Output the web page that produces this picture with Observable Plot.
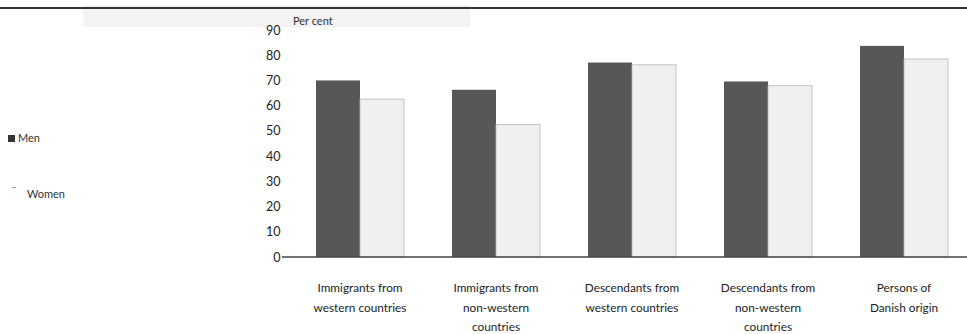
<!DOCTYPE html>
<html><head><meta charset="utf-8">
<script src="https://cdn.jsdelivr.net/npm/d3@7"></script>
<script src="https://cdn.jsdelivr.net/npm/@observablehq/plot@0.6"></script>
<style>
body{margin:0;background:#fff;font-family:Lato,"Open Sans",sans-serif;color:#222;}
#wrap{position:relative;width:967px;height:334px;overflow:hidden;}
#band{position:absolute;left:83px;top:5px;width:387px;height:22px;background:#f3f3f3;}
#topline{position:absolute;left:0;top:7px;width:967px;height:2px;background:#333;}
#unit{position:absolute;left:293px;top:14px;font-size:11px;color:#333;}
.leg{position:absolute;font-size:11px;color:#333;}
#chart{position:absolute;left:0;top:0;}
</style></head><body>
<div id="wrap">
<div id="band"></div>
<div id="topline"></div>
<div id="chart"></div>
<div id="unit">Per cent</div>
<div class="leg" style="left:8px;top:131px;"><span style="display:inline-block;width:7px;height:7px;background:#333;margin-right:3px;vertical-align:0px;"></span>Men</div>
<div class="leg" style="left:12px;top:187px;"><span style="display:inline-block;width:4px;height:1px;background:#999;margin-right:11px;vertical-align:10px;"></span>Women</div>
</div>
<script>
const categories = ["Immigrants from western countries","Immigrants from non-western countries","Descendants from western countries","Descendants from non-western countries","Persons of Danish origin"];
const categoryLabels = ["Immigrants from\nwestern countries","Immigrants from\nnon-western\ncountries","Descendants from\nwestern countries","Descendants from\nnon-western\ncountries","Persons of\nDanish origin"];
const sexes = ["Men","Women"];
const men = [70, 66.3, 77.1, 69.6, 83.7];
const women = [62.6, 52.5, 76.2, 67.9, 78.5];
const yTicks = [0,10,20,30,40,50,60,70,80,90];

const rows = categories.flatMap((c,i)=>[
  {category:c, sex:"Men", value:men[i]},
  {category:c, sex:"Women", value:women[i]}
]);
const labelOf = new Map(categories.map((c,i)=>[c, categoryLabels[i]]));

const chart = Plot.plot({
  width:967, height:334,
  marginTop:30, marginBottom:77, marginLeft:296, marginRight:0,
  style:{fontFamily:"Lato, 'Open Sans', sans-serif", fontSize:"12px", color:"#222", background:"transparent"},
  fx:{domain:categories, paddingInner:0.342, paddingOuter:0.124, label:null},
  x:{domain:sexes, padding:0, axis:null},
  y:{domain:[0,90], label:null},
  marks:[
    Plot.barY(rows.filter(d=>d.sex==="Men"), {fx:"category", x:"sex", y:"value", fill:"#575757"}),
    Plot.barY(rows.filter(d=>d.sex==="Women"), {fx:"category", x:"sex", y:"value", fill:"#f0f0f0", stroke:"#b8b8b8", strokeWidth:0.8}),
    Plot.axisY({ticks:yTicks, tickSize:0, tickPadding:35, fontSize:12.5, label:null}),
    Plot.axisFx({anchor:"bottom", tickSize:0, tickPadding:21, tickFormat:d=>labelOf.get(d), lineHeight:1.65, fontSize:11.8, label:null})
  ]
});
document.getElementById("chart").appendChild(chart);
const y = chart.scale("y");
d3.select(chart).append("line")
  .attr("x1",282).attr("x2",967)
  .attr("y1",y.apply(0)).attr("y2",y.apply(0))
  .attr("stroke","#444").attr("stroke-width",1.5);
</script>
</body></html>
